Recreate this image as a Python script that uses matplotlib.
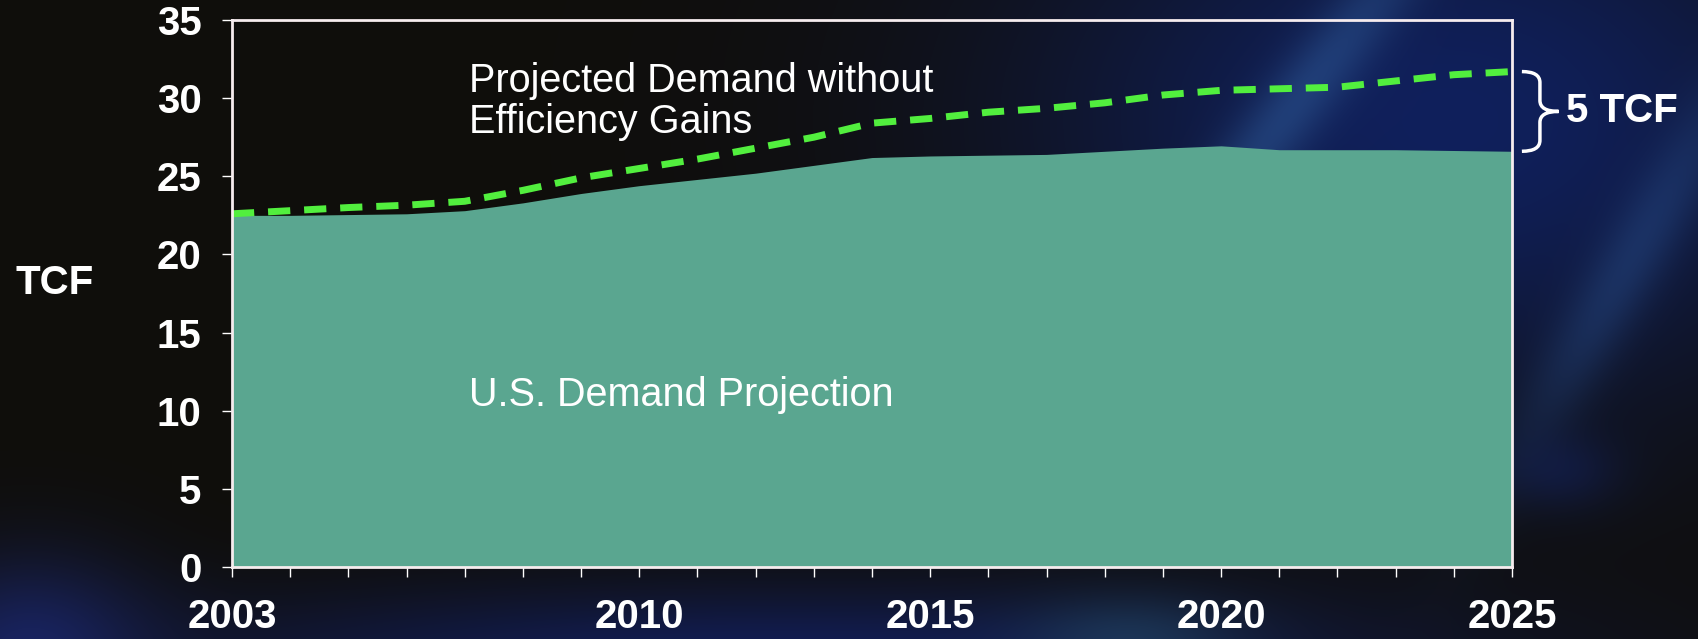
import numpy as np
import matplotlib
matplotlib.use("Agg")
import matplotlib.pyplot as plt
from matplotlib.path import Path
from matplotlib.patches import PathPatch

plt.rcParams['font.family'] = ['Liberation Sans', 'DejaVu Sans']

# data (TCF per year)
years = list(range(2003, 2026))
demand = [22.5, 22.5, 22.55, 22.6, 22.8, 23.3, 23.9, 24.4, 24.8, 25.2, 25.7, 26.2,
          26.3, 26.35, 26.4, 26.6, 26.8, 26.95, 26.7, 26.7, 26.7, 26.65, 26.6]
no_efficiency = [22.6, 22.8, 23.0, 23.15, 23.4, 24.1, 24.9, 25.5, 26.1, 26.8, 27.5, 28.4,
                 28.7, 29.1, 29.35, 29.7, 30.2, 30.5, 30.6, 30.7, 31.1, 31.5, 31.7]
labelled_years = [2003, 2010, 2015, 2020, 2025]
y_ticks = [0, 5, 10, 15, 20, 25, 30, 35]

W, H = 1698, 639
fig = plt.figure(figsize=(W / 100, H / 100), dpi=100)
fig.patch.set_facecolor('#0f0e0b')

# dark slide background with blue glows
yy, xx = np.mgrid[0:H, 0:W].astype(float)
bg = np.ones((H, W, 3)) * np.array([15, 14, 11]) / 255.0


def glow(cx, cy, sa, sb, color, amp, angle=0.0):
    global bg
    a = np.deg2rad(angle)
    u = (xx - cx) * np.cos(a) + (yy - cy) * np.sin(a)
    v = -(xx - cx) * np.sin(a) + (yy - cy) * np.cos(a)
    w = amp * np.exp(-(u / sa) ** 2 - (v / sb) ** 2)
    bg = bg * (1 - w[..., None]) + (np.array(color) / 255.0) * w[..., None]


glow(1450, 120, 430, 290, (16, 32, 92), 1.0)
glow(780, 660, 640, 75, (18, 30, 88), 0.95)
glow(30, 660, 120, 100, (26, 38, 105), 0.9)
glow(1290, 110, 260, 35, (45, 88, 150), 0.55, angle=-52)
glow(1630, 260, 220, 35, (40, 78, 140), 0.45, angle=-60)
glow(1130, 640, 110, 45, (40, 85, 115), 0.45)
glow(1560, 470, 60, 40, (20, 35, 95), 0.5)

bgax = fig.add_axes([0, 0, 1, 1], zorder=0)
bgax.imshow(bg, aspect='auto', interpolation='bilinear')
bgax.axis('off')

ax = fig.add_axes([232 / W, 72 / H, 1280 / W, 547 / H], zorder=1)
ax.patch.set_alpha(0)

ax.fill_between(years, 0, demand, color='#5aa690', linewidth=0)
ax.plot(years, no_efficiency, color='#52ef3e', lw=5, dashes=(3.2, 2.0),
        solid_capstyle='butt', dash_capstyle='butt')

ax.set_xlim(2003, 2025)
ax.set_ylim(0, 35)

ax.set_yticks(y_ticks)
ax.set_yticklabels([str(v) for v in y_ticks])
ax.set_xticks(years)
ax.set_xticklabels([str(y) if y in labelled_years else '' for y in years])

for s in ax.spines.values():
    s.set_color('#f6ecee')
    s.set_linewidth(2)
ax.tick_params(axis='y', colors='white', length=7, width=1, pad=15,
               labelsize=29)
ax.tick_params(axis='x', colors='white', length=7, width=1, pad=15,
               labelsize=29)
for t in ax.get_xticklabels() + ax.get_yticklabels():
    t.set_fontweight('bold')

fig.text(55 / W, 1 - 283 / H, 'TCF', color='white', fontsize=29,
         fontweight='bold', ha='center', va='center')

fig.text(469 / W, 1 - 92 / H, 'Projected Demand without', color='white',
         fontsize=28.5, ha='left', va='baseline')
fig.text(469 / W, 1 - 133 / H, 'Efficiency Gains', color='white',
         fontsize=28.5, ha='left', va='baseline')
fig.text(469 / W, 1 - 406 / H, 'U.S. Demand Projection', color='white',
         fontsize=28.5, ha='left', va='baseline')

# curly brace marking the gap at 2025
top, bot = no_efficiency[-1], demand[-1]
mid = (top + bot) / 2
x0, xm, xt, r = 2025.17, 2025.48, 2025.8, 0.7
verts = [(x0, top), (xm, top), (xm, top - r), (xm, mid + r),
         (xm, mid), (xt, mid), (xm, mid), (xm, mid - r),
         (xm, bot + r), (xm, bot), (x0, bot)]
codes = [Path.MOVETO, Path.CURVE3, Path.CURVE3, Path.LINETO,
         Path.CURVE3, Path.CURVE3, Path.CURVE3, Path.CURVE3,
         Path.LINETO, Path.CURVE3, Path.CURVE3]
ax.add_patch(PathPatch(Path(verts, codes), fill=False, edgecolor='white',
                       lw=2.5, clip_on=False))
ax.text(2025.93, mid, '5 TCF', color='white', fontsize=29, fontweight='bold',
        ha='left', va='center', clip_on=False)

fig.savefig('out.png', dpi=100, facecolor=fig.get_facecolor())
